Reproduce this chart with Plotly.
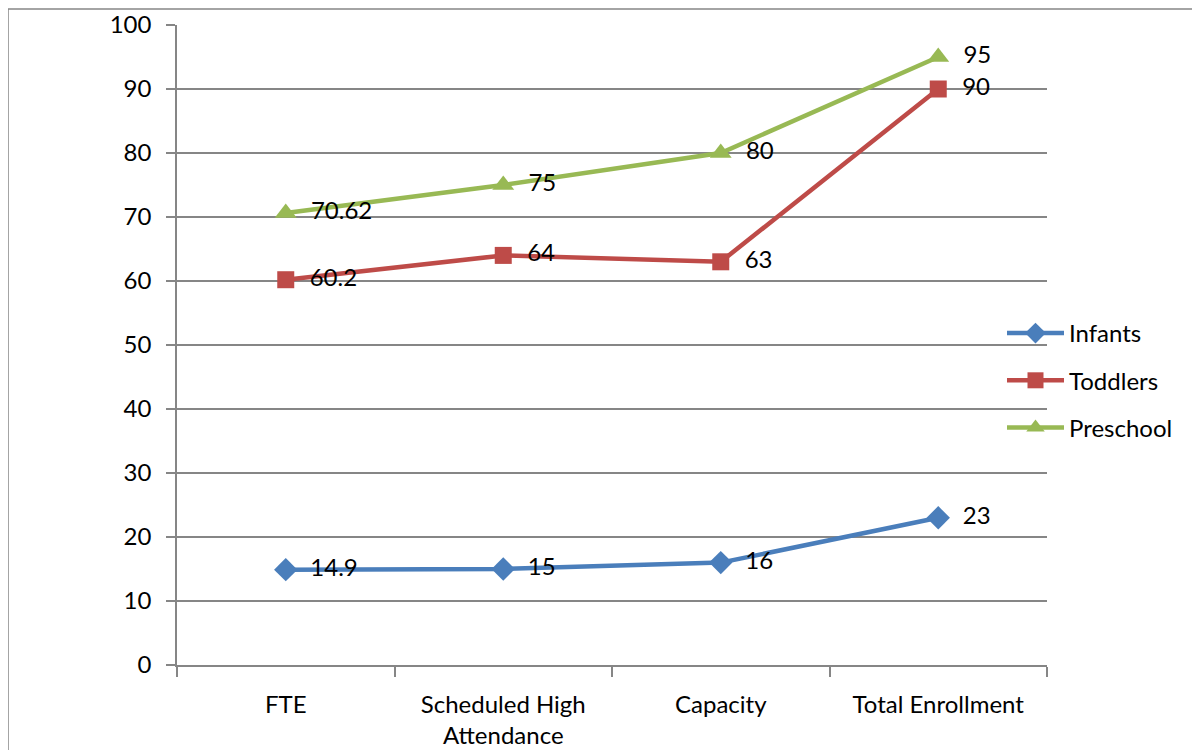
import plotly.graph_objects as go

categories = ["FTE", "Scheduled High<br>Attendance", "Capacity", "Total Enrollment"]
infants = [14.9, 15, 16, 23]
toddlers = [60.2, 64, 63, 90]
preschool = [70.62, 75, 80, 95]
infant_labels = ["14.9", "15", "16", "23"]
toddler_labels = ["60.2", "64", "63", "90"]
preschool_labels = ["70.62", "75", "80", "95"]

FONT = "Lato, Carlito, Calibri, sans-serif"
FS = 24
fig = go.Figure()

series = [
    ("Infants", infants, infant_labels, "#4A7EBB", "diamond", 18),
    ("Toddlers", toddlers, toddler_labels, "#BE4B48", "square", 17),
    ("Preschool", preschool, preschool_labels, "#98B954", "triangle-up", 19),
]
for name, vals, labs, col, sym, sz in series:
    fig.add_trace(go.Scatter(
        x=categories, y=vals, name=name, mode="lines+markers+text",
        text=["  " + t for t in labs], textposition="middle right",
        textfont=dict(size=FS, color="#000000", family=FONT),
        line=dict(color=col, width=4.5),
        marker=dict(symbol=sym, size=sz, color=col),
        legendgroup=name, cliponaxis=False,
    ))

# figure is drawn at a page offset of (8, 8)
W, H = 1200, 750
L, R, T, B = 169, 161, 17, 93
pw, ph = W - L - R, H - T - B
plot_bottom = H - B

fig.update_layout(
    width=W, height=H,
    margin=dict(l=L, r=R, t=T, b=B, autoexpand=False),
    paper_bgcolor="white", plot_bgcolor="white",
    font=dict(family=FONT, size=FS, color="#000000"),
    showlegend=True,
    legend=dict(x=(994 - L) / pw, y=(plot_bottom - 303) / ph, xanchor="left", yanchor="top",
                font=dict(size=FS, family=FONT), tracegroupgap=13, itemwidth=57,
                bgcolor="rgba(0,0,0,0)"),
    xaxis=dict(type="category", showgrid=False, showline=True, linecolor="#868686",
               linewidth=1.5, ticks="outside", tickson="boundaries", ticklen=10,
               tickcolor="#868686", tickwidth=1.5, tickfont=dict(size=FS, family=FONT),
               ticklabelstandoff=17, range=[-0.5, 3.5], automargin=False),
    yaxis=dict(range=[0, 100], dtick=10, showgrid=True, gridcolor="#868686", gridwidth=1.5,
               showline=True, linecolor="#868686", linewidth=1.5, ticks="outside",
               ticklen=9, tickcolor="#868686", tickwidth=1.5, zeroline=False,
               ticklabelstandoff=10, tickfont=dict(size=FS, family=FONT), automargin=False),
    shapes=[dict(type="rect", xref="paper", yref="paper",
                 x0=(0 - L) / pw, x1=(1189 - L) / pw,
                 y0=(plot_bottom - 770) / ph, y1=(plot_bottom - 1) / ph,
                 line=dict(color="#868686", width=1.5), layer="below")],
)

fig.write_html("out.html")
